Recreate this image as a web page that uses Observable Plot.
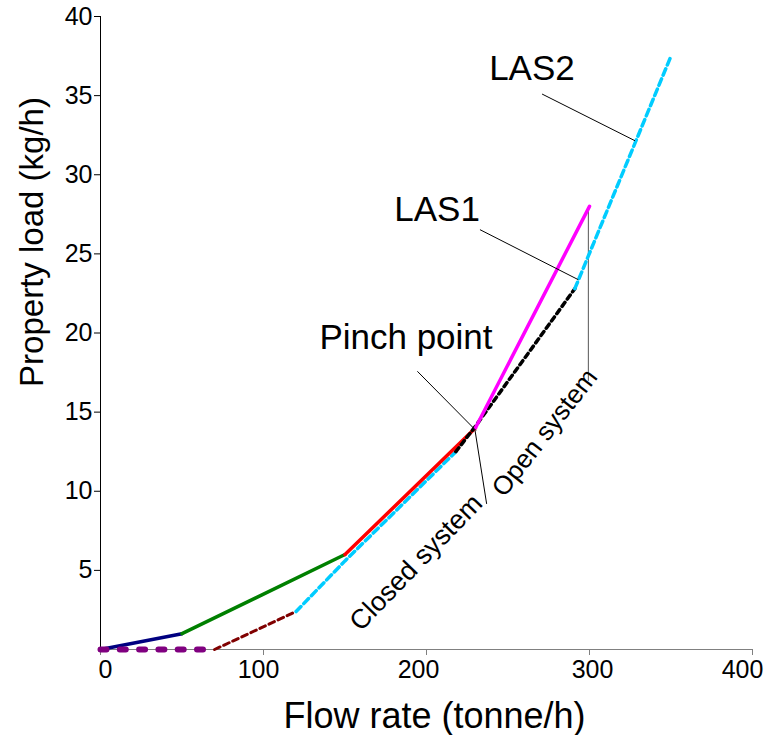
<!DOCTYPE html>
<html><head><meta charset="utf-8">
<script src="https://cdn.jsdelivr.net/npm/d3@7"></script>
<script src="https://cdn.jsdelivr.net/npm/@observablehq/plot@0.6"></script>
<style>body{margin:0;background:#fff} svg{display:block}</style>
</head><body><div id="chart"></div>
<script>
// Axis ticks
const xTicks = [0, 100, 200, 300, 400];
const yTicks = [5, 10, 15, 20, 25, 30, 35, 40];

// Series (flow rate tonne/h, property load kg/h)
const navyX = [0, 50],            navyY = [0, 1];
const greenX = [50, 150],         greenY = [1, 6];
const redX = [150, 230],          redY = [6, 14];
const magentaX = [230, 300],      magentaY = [14, 28];
const purpleX = [0, 65],          purpleY = [0, 0];
const maroonX = [70, 120],        maroonY = [0, 2.4];
const cyanLowX = [120, 150, 218], cyanLowY = [2.4, 5.6, 12.5];
const blackX = [218, 230, 291],   blackY = [12.5, 14.1, 22.8];
const cyanHighX = [291, 350],     cyanHighY = [22.8, 37.5];

// Annotations
const labelText = ["LAS2", "LAS1", "Pinch point"];
const labelX = [264.7, 206.5, 187.4];
const labelY = [36.7, 27.8, 19.7];
const rotText = ["Closed system", "Open system"];
const rotX = [193.6, 272.6];
const rotY = [5.5, 13.7];
const rotAngle = [-46, -52];
const leaderX1 = [270.9, 232.8, 194.4, 229.8];
const leaderY1 = [35.1, 26.53, 17.58, 13.83];
const leaderX2 = [327.9, 293.1, 230.4, 236.9];
const leaderY2 = [32.15, 23.37, 13.83, 9.2];
const openLineX = [299.3, 299.3], openLineY = [27.86, 17.0];

const seg = (xs, ys) => xs.map((x, i) => ({x, y: ys[i]}));
const leaders = leaderX1.map((x1, i) => ({x1, y1: leaderY1[i], x2: leaderX2[i], y2: leaderY2[i]}));
const labels = labelText.map((t, i) => ({t, x: labelX[i], y: labelY[i]}));
const rots = rotText.map((t, i) => ({t, x: rotX[i], y: rotY[i], a: rotAngle[i]}));

// horizontal nudges of x tick labels, as in the source picture
const xLabelShift = {0: 5, 100: -5, 200: -8, 300: 3, 400: -10};

const font = "'Liberation Sans', Arial, Helvetica, sans-serif";

const plot = Plot.plot({
  width: 768, height: 735,
  marginLeft: 100, marginRight: 16, marginTop: 16, marginBottom: 86,
  style: {fontFamily: font, fontSize: "25px", color: "#000", background: "#fff"},
  x: {domain: [0, 400]},
  y: {domain: [0, 40]},
  marks: [
    Plot.axisX({ticks: xTicks, tickSize: 6, stroke: "#808080", label: null, tickFormat: () => ""}),
    ...xTicks.map(t => Plot.text([t], {x: d => d, frameAnchor: "bottom", lineAnchor: "top", dy: 11, dx: xLabelShift[t], text: d => String(d), fontSize: 25, fill: "#000"})),
    Plot.axisY({ticks: yTicks, tickSize: 6, tickPadding: 2, fontSize: 25, label: null, tickFormat: d => String(d)}),
    Plot.ruleY([0], {stroke: "#808080", strokeWidth: 1}),
    Plot.ruleX([0], {stroke: "#000", strokeWidth: 1}),
    Plot.line(seg(openLineX, openLineY), {x: "x", y: "y", stroke: "#555", strokeWidth: 1}),
    Plot.line(seg(maroonX, maroonY), {x: "x", y: "y", stroke: "#800000", strokeWidth: 3, strokeDasharray: "6,4"}),
    Plot.line(seg(cyanLowX, cyanLowY), {x: "x", y: "y", stroke: "#00ccff", strokeWidth: 3.5, strokeDasharray: "7,4"}),
    Plot.line(seg(navyX, navyY), {x: "x", y: "y", stroke: "#000080", strokeWidth: 3.5}),
    Plot.line(seg(greenX, greenY), {x: "x", y: "y", stroke: "#008000", strokeWidth: 3.5}),
    Plot.line(seg(redX, redY), {x: "x", y: "y", stroke: "#ff0000", strokeWidth: 3.5}),
    Plot.line(seg(blackX, blackY), {x: "x", y: "y", stroke: "#000", strokeWidth: 3.5, strokeDasharray: "5,4"}),
    Plot.line(seg(magentaX, magentaY), {x: "x", y: "y", stroke: "#ff00ff", strokeWidth: 3.5}),
    Plot.line(seg(cyanHighX, cyanHighY), {x: "x", y: "y", stroke: "#00ccff", strokeWidth: 3.5, strokeDasharray: "7,4"}),
    Plot.line(seg(purpleX, purpleY), {x: "x", y: "y", stroke: "#800080", strokeWidth: 6, strokeDasharray: "6,13.3", strokeLinecap: "round"}),
    Plot.link(leaders, {x1: "x1", y1: "y1", x2: "x2", y2: "y2", stroke: "#000", strokeWidth: 1}),
    Plot.text(labels, {x: "x", y: "y", text: "t", fontSize: 35, fill: "#000"}),
    ...rots.map((r, i) => Plot.text([r], {x: "x", y: "y", text: "t", rotate: r.a, fontSize: i === 0 ? 27 : 26, fill: "#000"})),
    Plot.text(["Property load (kg/h)"], {frameAnchor: "left", textAnchor: "middle", lineAnchor: "middle", rotate: -90, dx: -68, dy: -91, fontSize: 33, fill: "#000"}),
    Plot.text(["Flow rate (tonne/h)"], {frameAnchor: "bottom", textAnchor: "middle", lineAnchor: "middle", dx: 8, dy: 67, fontSize: 36, fill: "#000"})
  ]
});
document.getElementById("chart").append(plot);
</script>
</body></html>
